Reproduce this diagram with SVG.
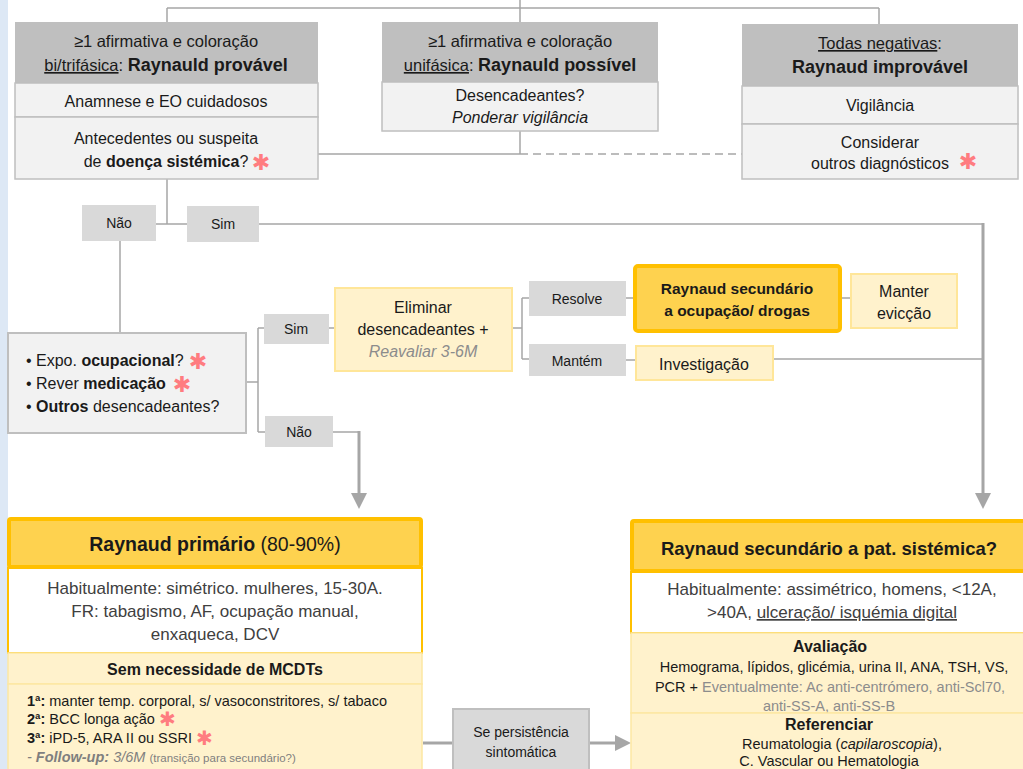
<svg xmlns="http://www.w3.org/2000/svg" width="1023" height="769" viewBox="0 0 1023 769">
<defs>
<style>
text{font-family:"Liberation Sans",Arial,sans-serif;fill:#1a1a1a;}
.c{text-anchor:middle;}
.b{font-weight:bold;}
.i{font-style:italic;}
.u{text-decoration:underline;}
.g{fill:#8c8c8c;}
.t17{font-size:17px;}
.t16{font-size:16px;}
.t15{font-size:15px;}
.t14{font-size:14px;}
.t145{font-size:14.5px;}
.ast{font-family:"DejaVu Sans",sans-serif;fill:#ff7c80;font-size:22px;text-anchor:middle;}
.asti{font-family:"DejaVu Sans",sans-serif;fill:#ff7c80;font-size:20px;}
.hd{fill:#bfbfbf;}
.row{fill:#f2f2f2;stroke:#bfbfbf;stroke-width:1.5;}
.lbl{fill:#d9d9d9;}
.ly{fill:#fff2cc;stroke:#ffe699;stroke-width:2;}
.gold{fill:#fed24f;stroke:#ffc000;stroke-width:4;}
.ln{fill:none;stroke:#a6a6a6;stroke-width:1.5;}
.lt{fill:none;stroke:#a6a6a6;stroke-width:3;}
.dash{fill:none;stroke:#a6a6a6;stroke-width:1.5;stroke-dasharray:8 5;}
</style>
<marker id="arr" markerUnits="userSpaceOnUse" markerWidth="16" markerHeight="16" viewBox="0 0 16 16" refX="0" refY="8" orient="auto">
<path d="M0,0 L16,8 L0,16 Z" fill="#a6a6a6"/>
</marker>
</defs>
<rect x="0" y="0" width="1023" height="769" fill="#ffffff"/>
<rect x="0" y="0" width="8" height="769" fill="#dde8f5"/>

<g id="connectors">
<path class="ln" d="M520,0 V8 M167,8 H879 M167,8 V22 M520,8 V22 M879,8 V24"/>
<path class="ln" d="M318,154 H520 M520,131 V154"/>
<path class="dash" d="M520,154 H742"/>
<path class="ln" d="M167,179 V224 M156,224 H187"/>
<path class="ln" d="M259,224 H983"/>
<path class="lt" d="M983,223 V493" marker-end="url(#arr)"/>
<path class="ln" d="M120,241 V333"/>
<path class="ln" d="M246,382 H258 M258,328 V432 M258,328 H264 M258,432 H265 M329,328 H335"/>
<path class="ln" d="M333,432 H359"/>
<path class="lt" d="M359,431 V493" marker-end="url(#arr)"/>
<path class="ln" d="M513,328 H522 M522,298 V359 M522,298 H529 M522,359 H529"/>
<path class="ln" d="M626,298 H635 M626,360 H636 M840,298 H851 M773,359 H983"/>
<path class="lt" d="M423,743 H453"/>
<path class="lt" d="M589,743 H615" marker-end="url(#arr)"/>
</g>

<g id="n-provavel">
<rect class="hd" x="15" y="22" width="303" height="61"/>
<rect class="row" x="15" y="83" width="303" height="34"/>
<rect class="row" x="15" y="117" width="303" height="62"/>
<text class="c" x="166" y="47" style="font-size:16.5px">≥1 afirmativa e coloração</text>
<text class="c" x="166" y="71" style="font-size:16.5px"><tspan class="u">bi/trifásica</tspan>: <tspan class="b" style="font-size:18px">Raynauld provável</tspan></text>
<text class="c t16" x="166" y="107">Anamnese e EO cuidadosos</text>
<text class="c t16" x="166" y="144">Antecedentes ou suspeita</text>
<text class="c t16" x="166" y="167">de <tspan class="b">doença sistémica</tspan>?</text>
<text class="ast" x="261" y="170">✱</text>
</g>

<g id="n-possivel">
<rect class="hd" x="382" y="22" width="276" height="60"/>
<rect class="row" x="382" y="82" width="276" height="49"/>
<text class="c" x="520" y="47" style="font-size:16.5px">≥1 afirmativa e coloração</text>
<text class="c" x="520" y="71" style="font-size:16.5px"><tspan class="u">unifásica</tspan>: <tspan class="b" style="font-size:18px">Raynauld possível</tspan></text>
<text class="c t16" x="520" y="101">Desencadeantes?</text>
<text class="c t16 i" x="520" y="123">Ponderar vigilância</text>
</g>

<g id="n-improvavel">
<rect class="hd" x="742" y="24" width="276" height="62"/>
<rect class="row" x="742" y="86" width="276" height="38"/>
<rect class="row" x="742" y="124" width="276" height="55"/>
<text class="c" x="880" y="49" style="font-size:16.5px"><tspan class="u">Todas negativas</tspan>:</text>
<text class="c b" x="880" y="73" style="font-size:18px">Raynaud improvável</text>
<text class="c t16" x="880" y="111">Vigilância</text>
<text class="c t16" x="880" y="148">Considerar</text>
<text class="c t16" x="880" y="169">outros diagnósticos</text>
<text class="ast" x="968" y="169">✱</text>
</g>

<g id="l-nao1"><rect class="lbl" x="82" y="205" width="74" height="36"/><text class="c t14" x="119" y="228">Não</text></g>
<g id="l-sim1"><rect class="lbl" x="187" y="206" width="72" height="36"/><text class="c t14" x="223" y="229">Sim</text></g>

<g id="n-desencadeantes">
<rect class="row" x="8" y="333" width="238" height="100" style="stroke-width:2"/>
<text class="t16" x="26" y="366">• Expo. <tspan class="b">ocupacional</tspan>?</text>
<text class="t16" x="26" y="389">• Rever <tspan class="b">medicação</tspan></text>
<text class="t16" x="26" y="412">• <tspan class="b">Outros</tspan> desencadeantes?</text>
<text class="ast" x="198" y="369">✱</text>
<text class="ast" x="182" y="392">✱</text>
</g>

<g id="l-sim2"><rect class="lbl" x="264" y="314" width="65" height="30"/><text class="c t14" x="296" y="334">Sim</text></g>
<g id="l-nao2"><rect class="lbl" x="265" y="416" width="68" height="31"/><text class="c t14" x="299" y="437">Não</text></g>

<g id="n-eliminar">
<rect class="ly" x="335" y="288" width="177" height="83"/>
<text class="c t16" x="423" y="313">Eliminar</text>
<text class="c t16" x="423" y="335">desencadeantes +</text>
<text class="c t16 i g" x="423" y="357">Reavaliar 3-6M</text>
</g>

<g id="l-resolve"><rect class="lbl" x="529" y="281" width="97" height="35"/><text class="c t14" x="577" y="304">Resolve</text></g>
<g id="l-mantem"><rect class="lbl" x="529" y="344" width="97" height="32"/><text class="c t14" x="577" y="366">Mantém</text></g>

<g id="n-sec-ocupacao">
<rect class="gold" x="635" y="266" width="205" height="65" rx="3"/>
<text class="c b" x="737" y="294" style="font-size:15.5px">Raynaud secundário</text>
<text class="c b" x="737" y="316" style="font-size:15.5px">a ocupação/ drogas</text>
</g>

<g id="n-manter">
<rect class="ly" x="851" y="274" width="106" height="54"/>
<text class="c t16" x="904" y="297">Manter</text>
<text class="c t16" x="904" y="319">evicção</text>
</g>

<g id="n-investigacao">
<rect class="ly" x="636" y="346" width="137" height="34"/>
<text class="c t16" x="704" y="370">Investigação</text>
</g>

<g id="n-primario">
<rect x="8" y="568" width="414" height="85" fill="#ffffff" stroke="#ffc000" stroke-width="2"/>
<rect class="ly" x="8" y="653" width="414" height="31" style="stroke:#fde7a3;stroke-width:1.5"/>
<rect class="ly" x="8" y="684" width="414" height="95" style="stroke:#fde7a3;stroke-width:1.5"/>
<rect class="gold" x="9" y="519" width="412" height="48" rx="2"/>
<text class="c" x="215" y="551" style="font-size:19.5px"><tspan class="b">Raynaud primário</tspan> (80-90%)</text>
<text class="c t17" x="215" y="594" style="fill:#404040">Habitualmente: simétrico. mulheres, 15-30A.</text>
<text class="c t17" x="215" y="617" style="fill:#404040">FR: tabagismo, AF, ocupação manual,</text>
<text class="c t17" x="215" y="640" style="fill:#404040">enxaqueca, DCV</text>
<text class="c b t16" x="215" y="675">Sem necessidade de MCDTs</text>
<text class="t145" x="27" y="706"><tspan class="b">1ª:</tspan> manter temp. corporal, s/ vasoconstritores, s/ tabaco</text>
<text class="t145" x="27" y="724"><tspan class="b">2ª:</tspan> BCC longa ação <tspan class="asti" y="726">✱</tspan></text>
<text class="t145" x="27" y="743"><tspan class="b">3ª:</tspan> iPD-5, ARA II ou SSRI <tspan class="asti" y="745">✱</tspan></text>
<text class="t145" x="27" y="762" style="fill:#7f7f7f"><tspan class="i" style="fill:#7f7f7f">- </tspan><tspan class="b i" style="fill:#7f7f7f">Follow-up:</tspan><tspan class="i" style="fill:#7f7f7f"> 3/6M</tspan> <tspan style="font-size:11.5px;fill:#7f7f7f">(transição para secundário?)</tspan></text>
</g>

<g id="n-persistencia">
<rect x="453" y="709" width="136" height="66" fill="#d9d9d9" stroke="#bfbfbf" stroke-width="2"/>
<text class="c t14" x="521" y="737">Se persistência</text>
<text class="c t14" x="521" y="757">sintomática</text>
</g>

<g id="n-secundario">
<rect x="631" y="572" width="400" height="61" fill="#ffffff" stroke="#ffc000" stroke-width="2"/>
<rect class="ly" x="631" y="633" width="400" height="80" style="stroke:#fde7a3;stroke-width:1.5"/>
<text class="c b t16" x="830" y="652">Avaliação</text>
<text class="c t145" x="834" y="672">Hemograma, lípidos, glicémia, urina II, ANA, TSH, VS,</text>
<text class="c t145" x="830" y="692">PCR + <tspan class="g">Eventualmente: Ac anti-centrómero, anti-Scl70,</tspan></text>
<text class="c t145 g" x="829" y="711">anti-SS-A, anti-SS-B</text>
<rect class="ly" x="631" y="713" width="400" height="70" style="stroke:#fde7a3;stroke-width:1.5"/>
<rect class="gold" x="632" y="521" width="400" height="50" rx="2"/>
<text class="c b" x="829" y="555" style="font-size:18.5px">Raynaud secundário a pat. sistémica?</text>
<text class="c t17" x="832" y="595" style="fill:#404040">Habitualmente: assimétrico, homens, &lt;12A,</text>
<text class="c t17" x="832" y="618" style="fill:#404040">&gt;40A, <tspan class="u">ulceração/ isquémia digital</tspan></text>
<text class="c b t16" x="829" y="730">Referenciar</text>
<text class="c t145" x="842" y="749">Reumatologia (<tspan class="i">capilaroscopia</tspan>),</text>
<text class="c t145" x="829" y="766">C. Vascular ou Hematologia</text>
</g>
</svg>
